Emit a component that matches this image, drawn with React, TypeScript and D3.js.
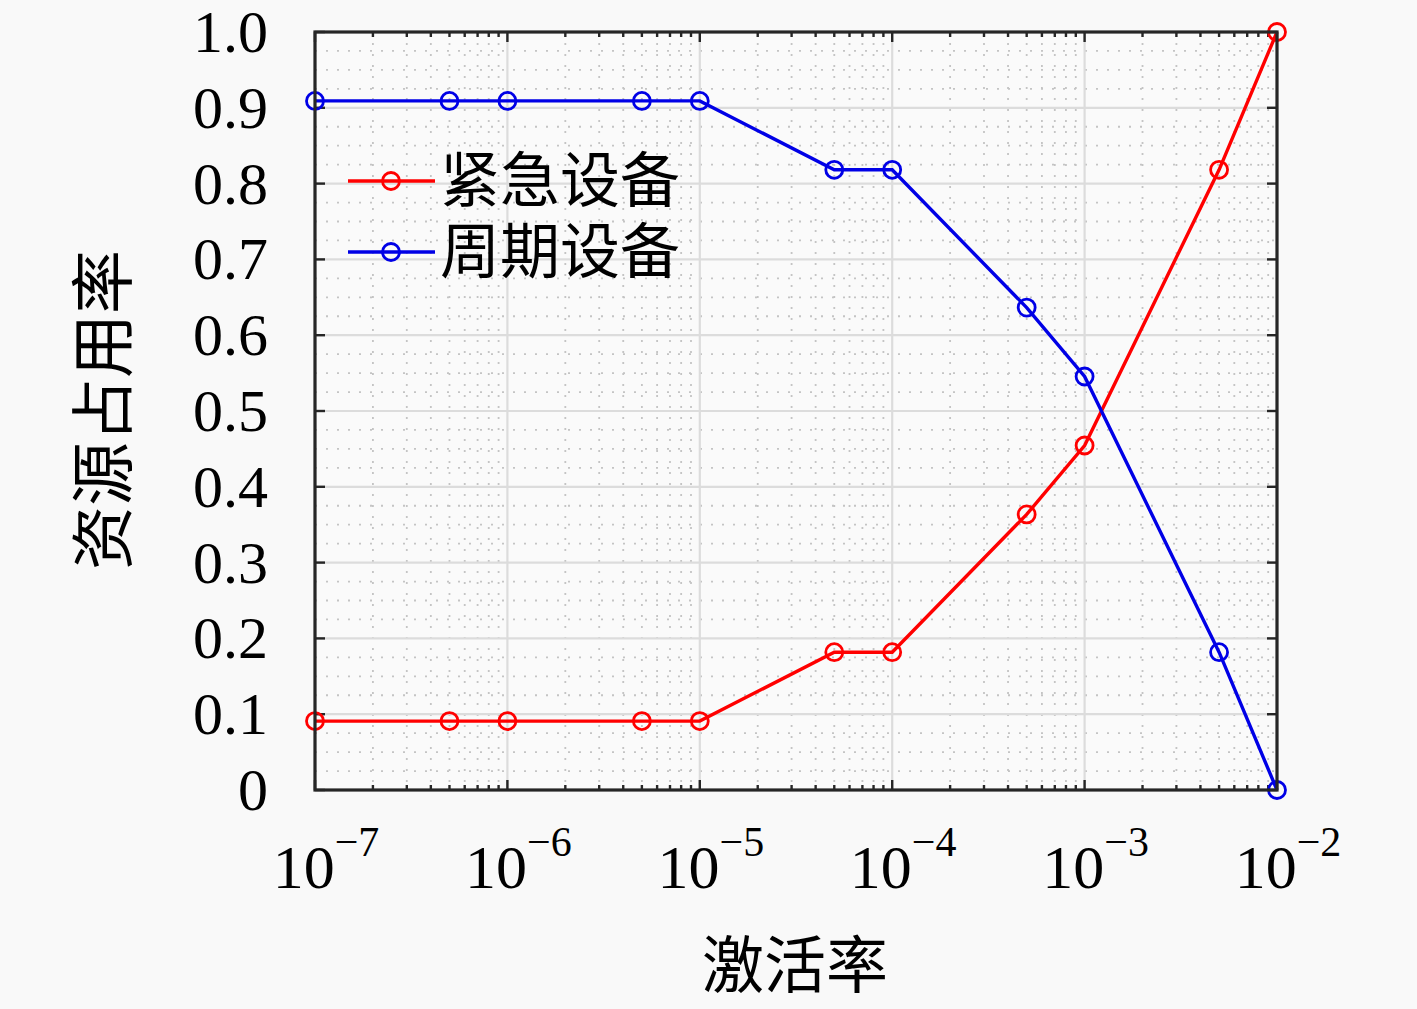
import * as d3 from 'd3';

const rates = [1e-7, 5e-7, 1e-6, 5e-6, 1e-5, 5e-5, 1e-4, 5e-4, 1e-3, 5e-3, 1e-2];
const urgent = [0.0909, 0.0909, 0.0909, 0.0909, 0.0909, 0.1818, 0.1818, 0.3636, 0.4545, 0.8182, 1.0];
const periodic = [0.9091, 0.9091, 0.9091, 0.9091, 0.9091, 0.8182, 0.8182, 0.6364, 0.5455, 0.1818, 0];
const xExps = [-7, -6, -5, -4, -3, -2];
const yTicks = [0, 0.1, 0.2, 0.3, 0.4, 0.5, 0.6, 0.7, 0.8, 0.9, 1.0];
const yTickLabels = ['0', '0.1', '0.2', '0.3', '0.4', '0.5', '0.6', '0.7', '0.8', '0.9', '1.0'];
const seriesNames = ['紧急设备', '周期设备'];
const seriesColors = ['#ff0000', '#0000e6'];

const width = 1417;
const height = 1009;
const left = 315, right = 1277, top = 32, bottom = 790;

const serif = '"Liberation Serif", "DejaVu Serif", serif';
const cjk = '"Noto Sans CJK SC", "Noto Sans CJK JP", sans-serif';

export default function App() {
  const x = d3.scaleLog().domain([1e-7, 1e-2]).range([left, right]);
  const y = d3.scaleLinear().domain([0, 1]).range([bottom, top]);

  const xMajor = xExps.map((e) => Math.pow(10, e));
  const xMinor: number[] = [];
  xExps.slice(0, -1).forEach((e) => {
    for (let k = 2; k <= 9; k++) xMinor.push(k * Math.pow(10, e));
  });
  const yMinor: number[] = [];
  for (let i = 0; i <= 40; i++) {
    if (i % 4 !== 0) yMinor.push(i / 40);
  }

  const line = d3.line<number>()
    .x((_, i) => x(rates[i]))
    .y((d) => y(d));

  const series = [urgent, periodic];
  const axisColor = '#262626';

  return (
    <svg width={width} height={height} style={{ position: 'absolute', left: 0, top: 0, background: '#f9f9f9' }}>
      <rect x={0} y={0} width={width} height={height} fill="#f9f9f9" />
      <rect x={left} y={top} width={right - left} height={bottom - top} fill="#fafafa" />

      {/* minor grid */}
      <g stroke="#c4c4c4" strokeWidth={1.8} strokeDasharray="2,9">
        {xMinor.map((v) => (
          <line key={'xm' + v} x1={x(v)} x2={x(v)} y1={top} y2={bottom} />
        ))}
        {yMinor.map((v) => (
          <line key={'ym' + v} x1={left} x2={right} y1={y(v)} y2={y(v)} />
        ))}
      </g>
      {/* major grid */}
      <g stroke="#dcdcdc" strokeWidth={2.2}>
        {xMajor.map((v) => (
          <line key={'xg' + v} x1={x(v)} x2={x(v)} y1={top} y2={bottom} />
        ))}
        {yTicks.map((v) => (
          <line key={'yg' + v} x1={left} x2={right} y1={y(v)} y2={y(v)} />
        ))}
      </g>

      {/* ticks */}
      <g stroke={axisColor} strokeWidth={2.4}>
        {xMajor.map((v) => (
          <g key={'xt' + v}>
            <line x1={x(v)} x2={x(v)} y1={bottom} y2={bottom - 10} />
            <line x1={x(v)} x2={x(v)} y1={top} y2={top + 10} />
          </g>
        ))}
        {xMinor.map((v) => (
          <g key={'xmt' + v}>
            <line x1={x(v)} x2={x(v)} y1={bottom} y2={bottom - 5} />
            <line x1={x(v)} x2={x(v)} y1={top} y2={top + 5} />
          </g>
        ))}
        {yTicks.map((v) => (
          <g key={'yt' + v}>
            <line x1={left} x2={left + 10} y1={y(v)} y2={y(v)} />
            <line x1={right} x2={right - 10} y1={y(v)} y2={y(v)} />
          </g>
        ))}
      </g>

      {/* series */}
      {series.map((s, si) => (
        <g key={'s' + si}>
          <path d={line(s) ?? ''} fill="none" stroke={seriesColors[si]} strokeWidth={3.4} />
          {s.map((v, i) => (
            <circle key={i} cx={x(rates[i])} cy={y(v)} r={8.5} fill="none" stroke={seriesColors[si]} strokeWidth={2.8} />
          ))}
        </g>
      ))}

      {/* axes box */}
      <rect x={left} y={top} width={right - left} height={bottom - top} fill="none" stroke={axisColor} strokeWidth={3.2} />

      {/* y tick labels */}
      {yTicks.map((v, i) => (
        <text key={'yl' + v} x={268} y={y(v) + 20} textAnchor="end" fontFamily={serif} fontSize={60} fill="#000">
          {yTickLabels[i]}
        </text>
      ))}

      {/* x tick labels */}
      {xExps.map((e) => (
        <text key={'xl' + e} x={x(Math.pow(10, e)) + 11} y={888} textAnchor="middle" fontFamily={serif} fontSize={62} fill="#000">
          10
          <tspan fontSize={42} dy={-32}>{'\u2212' + Math.abs(e)}</tspan>
        </text>
      ))}

      {/* axis labels */}
      <text x={795} y={988} textAnchor="middle" fontFamily={cjk} fontSize={62} fill="#000">激活率</text>
      <text transform={`translate(126, 410) rotate(-90)`} textAnchor="middle" fontFamily={cjk} fontSize={64} fill="#000">
        资源占用率
      </text>

      {/* legend */}
      {seriesNames.map((name, i) => {
        const ly = 181 + i * 71;
        return (
          <g key={'lg' + i}>
            <line x1={348} x2={435} y1={ly} y2={ly} stroke={seriesColors[i]} strokeWidth={3.4} />
            <circle cx={391} cy={ly} r={8.5} fill="none" stroke={seriesColors[i]} strokeWidth={2.8} />
            <text x={440} y={ly + 21} fontFamily={cjk} fontSize={60} fill="#000">{name}</text>
          </g>
        );
      })}
    </svg>
  );
}
